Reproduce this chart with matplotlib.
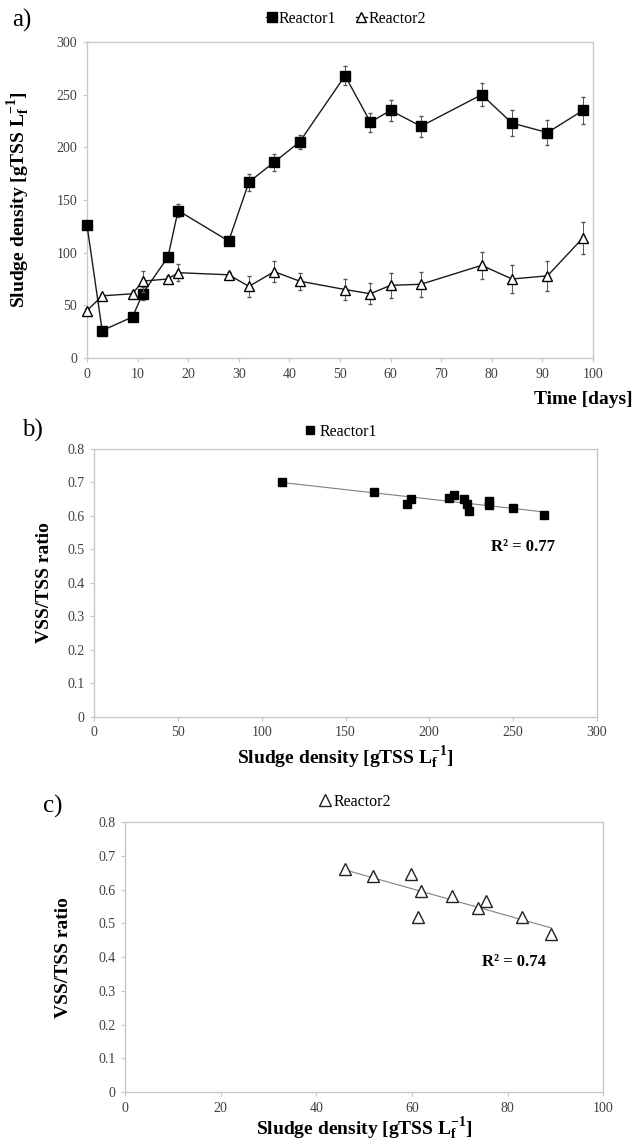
import matplotlib
matplotlib.use("Agg")
import matplotlib.pyplot as plt
import numpy as np

# panel a: sludge density over time
days = [0, 3, 9, 11, 16, 18, 28, 32, 37, 42, 51, 56, 60, 66, 78, 84, 91, 98]
r1_density = [126, 26, 39, 61, 96, 140, 111, 167, 186, 205, 268, 224, 235, 220, 250, 223, 214, 235]
r1_err = [2, 2, 3, 6, 3, 6, 3, 8, 8, 7, 9, 9, 10, 10, 11, 12, 12, 13]
r2_density = [45, 59, 61, 73, 75, 81, 79, 68, 82, 73, 65, 61, 69, 70, 88, 75, 78, 114]
r2_err = [2, 2, 3, 10, 3, 8, 3, 10, 10, 8, 10, 10, 12, 12, 13, 13, 14, 15]

# panel b: Reactor1 VSS/TSS vs density
b_density = [111.9, 167.2, 186.7, 189.1, 212.0, 214.6, 220.7, 222.3, 223.9, 235.5, 235.5, 250.2, 268.3]
b_ratio = [0.702, 0.672, 0.637, 0.651, 0.652, 0.661, 0.649, 0.637, 0.615, 0.644, 0.632, 0.623, 0.602]

# panel c: Reactor2 VSS/TSS vs density
c_density = [46.1, 51.8, 59.7, 61.9, 61.3, 68.4, 75.4, 73.9, 83.1, 89.1]
c_ratio = [0.660, 0.641, 0.647, 0.597, 0.518, 0.582, 0.566, 0.547, 0.520, 0.469]

plt.rcParams["font.family"] = ["Liberation Serif", "DejaVu Serif"]
plt.rcParams["mathtext.fontset"] = "custom"
plt.rcParams["mathtext.rm"] = "Liberation Serif:bold"
plt.rcParams["mathtext.it"] = "Liberation Serif:bold"
plt.rcParams["mathtext.bf"] = "Liberation Serif:bold"

W, H = 635, 1144
fig = plt.figure(figsize=(W / 100, H / 100), dpi=100)

SPINE = "#C8C8C8"
TICKTXT = "#404040"
density_label = r"Sludge density [gTSS L$_{f}^{-1}$]"


def make_axes(l, t, r, b):
    ax = fig.add_axes([l / W, 1 - b / H, (r - l) / W, (b - t) / H])
    for s in ax.spines.values():
        s.set_color(SPINE)
        s.set_linewidth(1.0)
    ax.tick_params(direction="out", length=3, width=0.8, color=SPINE,
                   labelsize=10, labelcolor=TICKTXT, pad=4)
    return ax


# ---- a) ----
ax1 = make_axes(87, 42, 593, 358)
for line in [
    ax1.errorbar(days, r1_density, yerr=r1_err, color="#1a1a1a", lw=1.0, marker="s",
                 ms=6.5, mfc="black", mec="black", ecolor="#555555", elinewidth=0.7,
                 capsize=1.5, label="Reactor1", zorder=3),
    ax1.errorbar(days, r2_density, yerr=r2_err, color="#1a1a1a", lw=1.0, marker="^",
                 ms=7.5, mfc="white", mec="black", mew=1.0, ecolor="#555555",
                 elinewidth=0.7, capsize=1.5, label="Reactor2", zorder=4),
]:
    for art in line.get_children():
        art.set_clip_on(False)
ax1.set_xlim(0, 100)
ax1.set_ylim(0, 300)
ax1.set_xticks(np.arange(0, 101, 10))
ax1.set_yticks(np.arange(0, 301, 50))
ax1.set_ylabel(density_label, fontsize=14, fontweight="bold")
ax1.yaxis.set_label_coords(-0.109, 0.5)
h, lab = ax1.get_legend_handles_labels()
h = [x[0] for x in h]
ax1.legend(h, lab, loc="center", bbox_to_anchor=(346 / W, 1 - 19 / H),
           bbox_transform=fig.transFigure, ncol=2, frameon=False, fontsize=11.5,
           handlelength=0.7, handletextpad=0.1, columnspacing=1.2)
fig.text(633 / W, 1 - 400 / H, "Time [days]", ha="right", va="center",
         fontsize=14, fontweight="bold")
fig.text(12 / W, 1 - 20 / H, "a)", ha="left", va="center", fontsize=18)

# ---- b) ----
ax2 = make_axes(94.3, 449, 596.7, 716.5)
ax2.plot(b_density, b_ratio, ls="none", marker="s", ms=5.5, color="black",
         label="Reactor1", zorder=3)
k, c0 = np.polyfit(b_density, b_ratio, 1)
xs = np.array([min(b_density), max(b_density)])
ax2.plot(xs, k * xs + c0, color="#808080", lw=0.8, zorder=2)
ax2.set_xlim(0, 300)
ax2.set_ylim(0, 0.8)
ax2.set_xticks(np.arange(0, 301, 50))
ax2.set_yticks(np.arange(0, 0.81, 0.1))
ax2.set_yticklabels(["0"] + ["%.1f" % v for v in np.arange(0.1, 0.81, 0.1)])
ax2.set_ylabel("VSS/TSS ratio", fontsize=14, fontweight="bold")
ax2.yaxis.set_label_coords(-0.082, 0.5)
ax2.set_xlabel(density_label, fontsize=14, fontweight="bold")
ax2.xaxis.set_label_coords(0.5, -0.105)
ax2.text(256, 0.507, "R² = 0.77", ha="center", va="center", fontsize=12,
         fontweight="bold")
ax2.legend(loc="center", bbox_to_anchor=(340 / W, 1 - 431.7 / H),
           bbox_transform=fig.transFigure, frameon=False, fontsize=11.5,
           handlelength=0.8, handletextpad=0.2)
fig.text(22 / W, 1 - 430 / H, "b)", ha="left", va="center", fontsize=18)

# ---- c) ----
ax3 = make_axes(125, 822.3, 603.3, 1092)
ax3.plot(c_density, c_ratio, ls="none", marker="^", ms=8.5, mfc="white",
         mec="#222222", mew=1.0, label="Reactor2", zorder=3)
k, c0 = np.polyfit(c_density, c_ratio, 1)
xs = np.array([min(c_density), max(c_density)])
ax3.plot(xs, k * xs + c0, color="#808080", lw=0.8, zorder=2)
ax3.set_xlim(0, 100)
ax3.set_ylim(0, 0.8)
ax3.set_xticks(np.arange(0, 101, 20))
ax3.set_yticks(np.arange(0, 0.81, 0.1))
ax3.set_yticklabels(["0"] + ["%.1f" % v for v in np.arange(0.1, 0.81, 0.1)])
ax3.set_ylabel("VSS/TSS ratio", fontsize=14, fontweight="bold")
ax3.yaxis.set_label_coords(-0.111, 0.5)
ax3.set_xlabel(density_label, fontsize=14, fontweight="bold")
ax3.xaxis.set_label_coords(0.5, -0.088)
ax3.text(81.3, 0.385, "R² = 0.74", ha="center", va="center", fontsize=12,
         fontweight="bold")
ax3.legend(loc="center", bbox_to_anchor=(355 / W, 1 - 801.7 / H),
           bbox_transform=fig.transFigure, frameon=False, fontsize=11.5,
           handlelength=0.8, handletextpad=0.1)
fig.text(43 / W, 1 - 806.7 / H, "c)", ha="left", va="center", fontsize=18)

fig.savefig("out.png", dpi=100)
